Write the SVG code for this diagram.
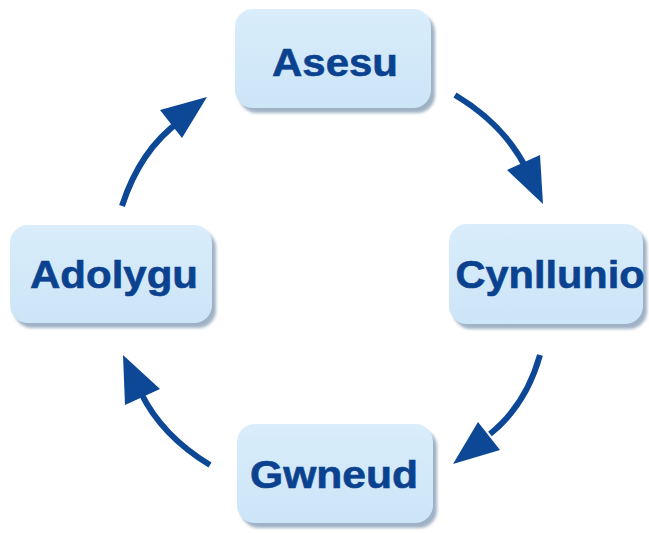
<svg xmlns="http://www.w3.org/2000/svg" width="649" height="533" viewBox="0 0 649 533">
<defs>
<linearGradient id="boxfill" x1="0" y1="0" x2="0" y2="1">
<stop offset="0" stop-color="#d9edfb"/>
<stop offset="1" stop-color="#cce5f7"/>
</linearGradient>
<filter id="sh" x="-10%" y="-10%" width="130%" height="130%">
<feGaussianBlur stdDeviation="1.8"/>
</filter>
</defs>
<style>
.shadow{fill:#8fa5bb;filter:url(#sh);opacity:0.85}
.box{fill:url(#boxfill)}
.lbl{font-family:"Liberation Sans",Arial,sans-serif;font-weight:bold;font-size:38.5px;fill:#0b4290;text-anchor:middle;stroke:#0b4290;stroke-width:0.6}
.shaft{fill:none;stroke:#0d4896;stroke-width:6;stroke-linecap:butt}
.head{fill:#0d4896}
</style>
<rect width="649" height="533" fill="#ffffff"/>
<g id="asesu">
<rect class="shadow" x="239" y="14" width="196" height="99" rx="18"/>
<rect class="box" x="235" y="9" width="196" height="99" rx="18"/>
<text class="lbl" x="335" y="76" textLength="126" lengthAdjust="spacingAndGlyphs">Asesu</text>
</g>
<g id="cynllunio">
<rect class="shadow" x="453" y="229" width="194" height="100" rx="18"/>
<rect class="box" x="449" y="224" width="194" height="100" rx="18"/>
<text class="lbl" x="550" y="288" textLength="189" lengthAdjust="spacingAndGlyphs">Cynllunio</text>
</g>
<g id="gwneud">
<rect class="shadow" x="241" y="429" width="196" height="99" rx="18"/>
<rect class="box" x="237" y="424" width="196" height="99" rx="18"/>
<text class="lbl" x="334" y="488" textLength="168" lengthAdjust="spacingAndGlyphs">Gwneud</text>
</g>
<g id="adolygu">
<rect class="shadow" x="14" y="230" width="202" height="98" rx="18"/>
<rect class="box" x="10" y="225" width="202" height="98" rx="18"/>
<text class="lbl" x="114" y="288" textLength="168" lengthAdjust="spacingAndGlyphs">Adolygu</text>
</g>
<g id="connectors">
<path class="shaft" d="M455,95 Q505,125 527,170"/>
<polygon class="head" points="507,170 540,155 543,204"/>
<path class="shaft" d="M540,355 Q526,405 490,434"/>
<polygon class="head" points="478,422 500,450 453,464"/>
<path class="shaft" d="M210,465 Q162,436 141,393"/>
<polygon class="head" points="123,355 125,405 160,389"/>
<path class="shaft" d="M122,206 Q140,150 180,121"/>
<polygon class="head" points="207,97 160,110 182,138"/>
</g>
</svg>
